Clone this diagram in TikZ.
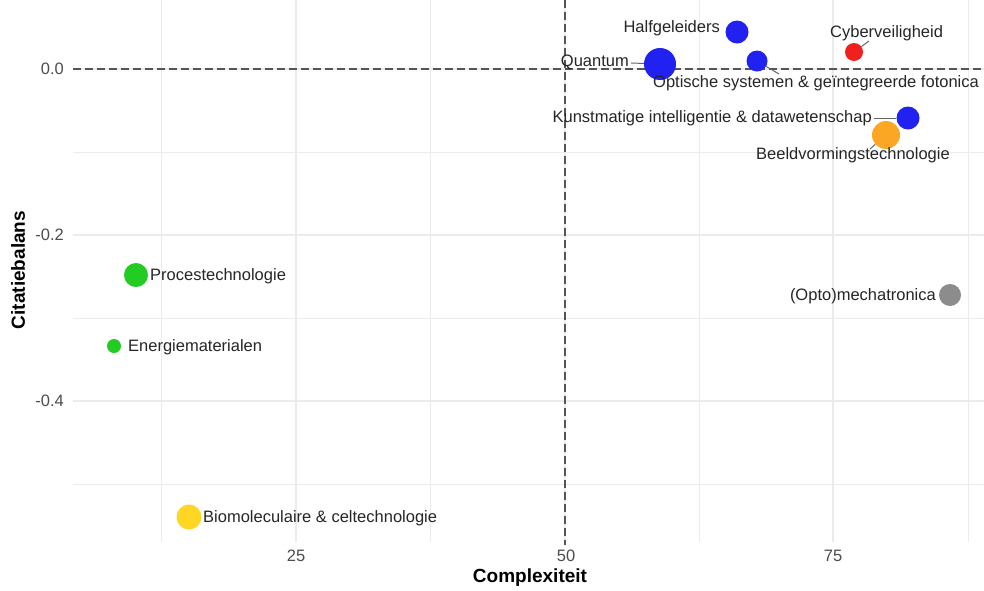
\documentclass[tikz,border=0pt]{standalone}
\usepackage{fontspec}
\setmainfont{Liberation Sans}
\definecolor{gridc}{HTML}{EBEBEB}
\definecolor{dashc}{HTML}{555555}
\definecolor{tickc}{HTML}{4D4D4D}
\definecolor{labc}{HTML}{262626}
\definecolor{segc}{HTML}{666666}
\definecolor{cblue}{HTML}{2121F2}
\definecolor{cred}{HTML}{F21F1F}
\definecolor{corange}{HTML}{FBA724}
\definecolor{cgreen}{HTML}{22CC22}
\definecolor{cyellow}{HTML}{FFD624}
\definecolor{cgray}{HTML}{8C8C8C}
\tikzset{
  majorgrid/.style={draw=gridc, line width=1.1pt},
  minorgrid/.style={draw=gridc, line width=0.9pt},
  refline/.style={draw=dashc, line width=1.8pt, dash pattern=on 8pt off 4pt},
  pt/.style={circle, inner sep=0pt, minimum size=#1, draw=none},
  lab/.style={inner sep=0pt, text=labc, font=\fontsize{16.5}{18}\selectfont},
  ticklab/.style={inner sep=0pt, text=tickc, font=\fontsize{16.5}{18}\selectfont},
  axtitle/.style={inner sep=0pt, text=black, font=\fontsize{19}{21}\selectfont\bfseries},
  seg/.style={draw=segc, line width=1pt}
}
\begin{document}
\begin{tikzpicture}[x=1pt,y=-1pt]
\useasboundingbox (0,0) rectangle (984,590);
\fill[white] (0,0) rectangle (984,590);
% grid
\foreach \gx in {161.8,430.8,699,968} \draw[minorgrid] (\gx,0) -- (\gx,542);
\foreach \gx in {296,565,833} \draw[majorgrid] (\gx,0) -- (\gx,542);
\foreach \gy in {152,318,484} \draw[minorgrid] (73,\gy) -- (984,\gy);
\foreach \gy in {69,235,401} \draw[majorgrid] (73,\gy) -- (984,\gy);
% reference lines
\draw[refline] (565,0) -- (565,545);
\draw[refline] (73,69) -- (984,69);
% tick labels
\node[ticklab, anchor=east] (t0) at (64,69) {0.0};
\node[ticklab, anchor=east] (t2) at (64,235) {-0.2};
\node[ticklab, anchor=east] (t4) at (64,401) {-0.4};
\node[ticklab] (x25) at (296,556) {25};
\node[ticklab] (x50) at (566,556) {50};
\node[ticklab] (x75) at (833,556) {75};
% axis titles
\node[axtitle] (xt) at (530,578) {Complexiteit};
\node[axtitle, rotate=90] (yt) at (18,270) {Citatiebalans};
% connector ends
\coordinate (cq) at (631,63);
\coordinate (co) at (779,74);
\coordinate (cc) at (869,41);
\coordinate (ck) at (874,118);
\coordinate (cb) at (870,149);
% points
\node[pt=32pt, fill=cblue] (pq) at (660,64) {};
\node[pt=23pt, fill=cblue] (ph) at (737,32) {};
\node[pt=21pt, fill=cblue] (po) at (757,61) {};
\node[pt=18pt, fill=cred] (pc) at (854,52) {};
\node[pt=23pt, fill=cblue] (pk) at (908,118) {};
\node[pt=28pt, fill=corange] (pb) at (886,135) {};
\node[pt=22pt, fill=cgray] (pm) at (950,295) {};
\node[pt=24pt, fill=cgreen] (pp) at (136,275) {};
\node[pt=14pt, fill=cgreen] (pe) at (114,346) {};
\node[pt=25pt, fill=cyellow] (pbi) at (189,517) {};
% connectors
\draw[seg] (cq) -- (pq);
\draw[seg] (co) -- (po);
\draw[seg] (cc) -- (pc);
\draw[seg] (ck) -- (pk);
\draw[seg] (cb) -- (pb);
% labels
\node[lab, anchor=east] (lh) at (720,28) {Halfgeleiders};
\node[lab, anchor=east] (lq) at (629,62) {Quantum};
\node[lab, anchor=west] (lo) at (653,83) {Optische systemen \& geïntegreerde fotonica};
\node[lab, anchor=west] (lc) at (830,33) {Cyberveiligheid};
\node[lab, anchor=east] (lk) at (872,118) {Kunstmatige intelligentie \& datawetenschap};
\node[lab, anchor=west] (lb) at (756,155) {Beeldvormingstechnologie};
\node[lab, anchor=east] (lm) at (936,296) {(Opto)mechatronica};
\node[lab, anchor=west] (lp) at (150,276) {Procestechnologie};
\node[lab, anchor=west] (le) at (128,347) {Energiematerialen};
\node[lab, anchor=west] (lbi) at (203,518) {Biomoleculaire \& celtechnologie};
\end{tikzpicture}
\end{document}
